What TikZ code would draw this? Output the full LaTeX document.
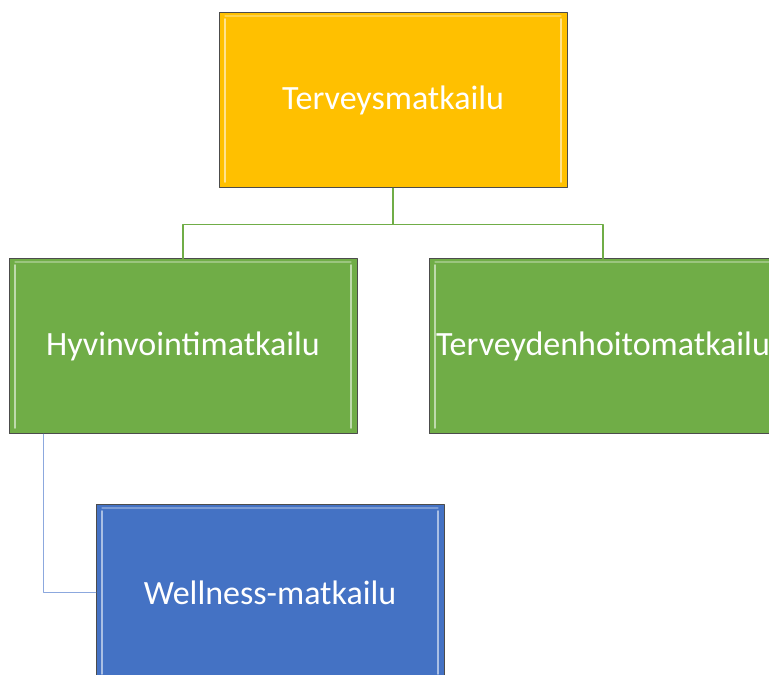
\documentclass[tikz,border=0pt]{standalone}
\usepackage{fontspec}
\setmainfont{Carlito}
\definecolor{gold}{HTML}{FFC000}
\definecolor{leaf}{HTML}{70AD47}
\definecolor{sea}{HTML}{4472C4}
\definecolor{sealine}{HTML}{8CA8DE}
\begin{document}
\begin{tikzpicture}[x=1pt,y=1pt,line cap=round,line join=round,
  orgbox/.style={draw=black!70,line width=1pt,minimum width=348pt,minimum height=175pt,
    inner sep=0pt,text=white,font=\fontsize{34}{40}\selectfont,
    path picture={
      \draw[white,opacity=.55,line width=1.6pt]
        ([xshift=6pt,yshift=-6pt]path picture bounding box.north west) -- ([xshift=6pt,yshift=6pt]path picture bounding box.south west)
        ([xshift=-6pt,yshift=-6pt]path picture bounding box.north east) -- ([xshift=-6pt,yshift=6pt]path picture bounding box.south east);
      \draw[white,opacity=.3,line width=1.2pt]
        ([xshift=6pt,yshift=-3pt]path picture bounding box.north west) -- ([xshift=-6pt,yshift=-3pt]path picture bounding box.north east);}}]
\useasboundingbox (0,0) rectangle (769,675);
\node[orgbox,fill=gold] (terveys) at (393,574.5) {Terveysmatkailu};
\node[orgbox,fill=leaf] (hyvin) at (183,328.5) {Hyvinvointimatkailu};
\node[orgbox,fill=leaf] (hoito) at (603,328.5) {Terveydenhoitomatkailu};
\node[orgbox,fill=sea] (well) at (270,82.5) {Wellness-matkailu};
% connectors
\draw[leaf,line width=1.4pt] (terveys.south) -- ++(0,-36) -| (hyvin.north);
\draw[leaf,line width=1.4pt] (terveys.south) -- ++(0,-36) -| (hoito.north);
\draw[sealine,line width=1.6pt] ([xshift=35pt]hyvin.south west) |- (well.west);
\end{tikzpicture}
\end{document}
